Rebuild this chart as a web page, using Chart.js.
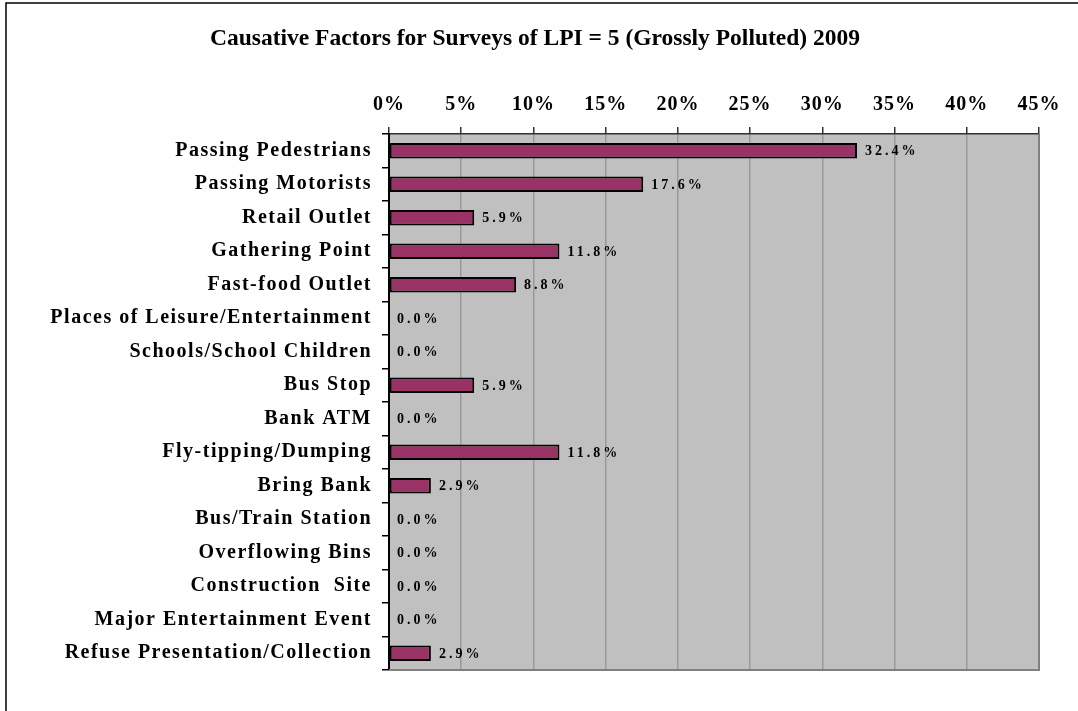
<!DOCTYPE html>
<html>
<head>
<meta charset="utf-8">
<script src="https://cdn.jsdelivr.net/npm/chart.js@4/dist/chart.umd.min.js"></script>
<style>
  html, body { margin: 0; padding: 0; background: #fff; }
  #wrap { width: 1078px; height: 711px; position: relative; }
</style>
</head>
<body>
<div id="wrap"><canvas id="c" width="1078" height="711"></canvas></div>
<script>
const titleText = 'Causative Factors for Surveys of LPI = 5 (Grossly Polluted) 2009';
const categories = [
  'Passing Pedestrians', 'Passing Motorists', 'Retail Outlet', 'Gathering Point',
  'Fast-food Outlet', 'Places of Leisure/Entertainment', 'Schools/School Children',
  'Bus Stop', 'Bank ATM', 'Fly-tipping/Dumping', 'Bring Bank', 'Bus/Train Station',
  'Overflowing Bins', 'Construction  Site', 'Major Entertainment Event',
  'Refuse Presentation/Collection'
];
const values = [32.4, 17.6, 5.9, 11.8, 8.8, 0.0, 0.0, 5.9, 0.0, 11.8, 2.9, 0.0, 0.0, 0.0, 0.0, 2.9];
const axisMin = 0, axisMax = 45, axisStep = 5;

const FONT = '"Liberation Serif", "Times New Roman", serif';

const decorPlugin = {
  id: 'decor',
  beforeDraw(chart) {
    const { ctx, chartArea: a } = chart;
    ctx.save();
    ctx.fillStyle = '#fff';
    ctx.fillRect(0, 0, chart.width, chart.height);
    ctx.strokeStyle = '#000';
    ctx.lineWidth = 1.5;
    ctx.strokeRect(6, 3, chart.width + 10, chart.height + 10);
    ctx.fillStyle = '#C0C0C0';
    ctx.fillRect(a.left, a.top, a.right - a.left, a.bottom - a.top);
    ctx.restore();
    ctx.letterSpacing = '0px';
  },
  afterDatasetsDraw(chart) {
    const { ctx, chartArea: a } = chart;
    ctx.save();
    ctx.strokeStyle = '#808080';
    ctx.lineWidth = 2;
    ctx.beginPath();
    ctx.moveTo(a.right, a.top);
    ctx.lineTo(a.right, a.bottom);
    ctx.lineTo(a.left, a.bottom);
    ctx.stroke();
    const meta = chart.getDatasetMeta(0);
    ctx.fillStyle = '#000';
    ctx.font = 'bold 14px ' + FONT;
    ctx.letterSpacing = '3px';
    ctx.textBaseline = 'middle';
    ctx.textAlign = 'left';
    meta.data.forEach((bar, i) => {
      const v = chart.data.datasets[0].data[i];
      ctx.fillText(v.toFixed(1) + '%', bar.x + 8, bar.y + 1);
    });
    ctx.restore();
    ctx.letterSpacing = '0px';
  }
};

new Chart(document.getElementById('c'), {
  type: 'bar',
  data: {
    labels: categories,
    datasets: [{
      data: values,
      backgroundColor: '#993366',
      borderColor: '#000',
      borderWidth: (c) => (c.raw === 0 ? 0 : 2),
      borderSkipped: false,
      barPercentage: 0.47,
      categoryPercentage: 1.0
    }]
  },
  options: {
    indexAxis: 'y',
    responsive: false,
    animation: false,
    events: [],
    layout: { padding: { left: 6, top: 3, right: 14, bottom: 41 } },
    plugins: {
      legend: { display: false },
      tooltip: { enabled: false },
      title: {
        display: true,
        text: titleText,
        color: '#000',
        font: { family: FONT, size: 23.5, weight: 'bold' },
        padding: { top: 22, bottom: 10 }
      }
    },
    scales: {
      x: {
        position: 'top',
        min: axisMin,
        max: axisMax,
        afterFit(scale) { scale.height = 134 - 3 - (22 + 23.5 * 1.2 + 10); },
        ticks: {
          stepSize: axisStep,
          color: '#000',
          font: { family: FONT, size: 20, weight: 'bold' },
          padding: 10,
          callback: (v) => v + '%'
        },
        grid: { color: '#999999', lineWidth: 1.5, tickLength: 7, tickColor: '#333' },
        border: { color: '#333', width: 1.5 }
      },
      y: {
        afterFit(scale) { scale.width = 389 - 6; },
        ticks: {
          color: '#000',
          font: { family: FONT, size: 20, weight: 'bold' },
          padding: 10,
          autoSkip: false
        },
        grid: { drawOnChartArea: false, tickLength: 7, tickColor: '#000', lineWidth: 1.5 },
        border: { color: '#000', width: 2 }
      },
      yR: {
        type: 'linear',
        axis: 'y',
        position: 'right',
        min: 0, max: 1,
        ticks: { display: false },
        grid: { display: false, drawTicks: false },
        border: { display: false },
        afterFit(scale) { scale.width = 25; }
      }
    }
  },
  plugins: [decorPlugin]
});
</script>
<script>
// Apply letter spacing to axis tick label drawing by wrapping scale label draws
(function () {
  const chart = Chart.getChart('c');
  const apply = (scaleId, px) => {
    const s = chart.scales[scaleId];
    const orig = s.drawLabels.bind(s);
    s.drawLabels = function (area) {
      const ctx = this.ctx;
      const prev = ctx.letterSpacing;
      ctx.letterSpacing = px;
      orig(area);
      ctx.letterSpacing = prev;
    };
  };
  apply('x', '1px');
  apply('y', '1.5px');
  chart.draw();
})();
</script>
</body>
</html>
